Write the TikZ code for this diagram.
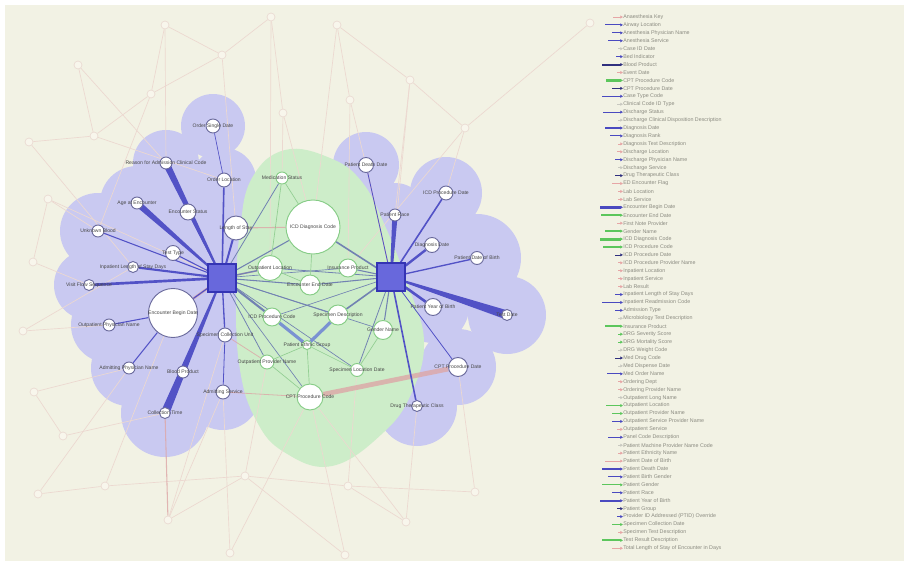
\documentclass[tikz,border=0pt]{standalone}
\usepackage{fontspec}
\setmainfont{Liberation Sans}
\usepackage{tikz}
\usetikzlibrary{calc,arrows.meta}
\definecolor{paper}{HTML}{F2F2E4}
\definecolor{blueblob}{HTML}{C9C9F1}
\definecolor{greenblob}{HTML}{CDEDC9}
\definecolor{bnline}{HTML}{6A6A9C}
\definecolor{gnline}{HTML}{86CC86}
\definecolor{hubline}{HTML}{3434B4}
\definecolor{hubfill}{HTML}{6868DC}
\definecolor{faintline}{HTML}{EADAD2}
\definecolor{faintfill}{HTML}{F8F6EC}
\definecolor{faintedge}{HTML}{ECD8D0}
\definecolor{bedge}{HTML}{5252C6}
\definecolor{cedge}{HTML}{7282B2}
\definecolor{gedge}{HTML}{92CE92}
\definecolor{pedge}{HTML}{DDA6A6}
\definecolor{vedge}{HTML}{7A92D2}
\definecolor{lbltext}{HTML}{484848}
\definecolor{legtext}{HTML}{8A8A80}
\definecolor{legblue}{HTML}{4A4AC0}
\definecolor{legdark}{HTML}{30307E}
\definecolor{leggreen}{HTML}{5CC65C}
\definecolor{legpink}{HTML}{E6A6A6}
\definecolor{leggrey}{HTML}{C8C8C0}
\pgfdeclarelayer{blob}
\pgfdeclarelayer{edge}
\pgfsetlayers{blob,edge,main}
% tapered band from an outer node (wide end) to a hub (narrow end)
\newcommand{\wedgeedge}[4]{\fill[bedge] ($(#1)!#3!90:(#2)$) -- ($(#1)!#3!-90:(#2)$) -- ($(#2)!#4!90:(#1)$) -- ($(#2)!#4!-90:(#1)$) -- cycle;}

\begin{document}
\begin{tikzpicture}[x=0.75pt, y=-0.75pt,
  sz/.style={minimum size=#1*0.75pt},
  bn/.style={circle, draw=bnline, fill=white, line width=0.7pt, inner sep=0pt},
  gn/.style={bn, draw=gnline},
  hub/.style={rectangle, draw=hubline, fill=hubfill, line width=0.9pt, minimum size=21pt},
  fn/.style={circle, draw=faintline, fill=faintfill, line width=0.5pt, minimum size=6pt, inner sep=0pt},
  lbl/.style={font=\fontsize{3.8}{4.3}\selectfont, text=lbltext, inner sep=0pt},
  be/.style={draw=bedge, line width=#1}, be/.default=0.8pt,
  ce/.style={draw=cedge, line width=#1}, ce/.default=0.6pt,
  ge/.style={draw=gedge, line width=#1}, ge/.default=0.5pt,
  pe/.style={draw=pedge, line width=#1, opacity=0.8}, pe/.default=1pt,
  fe/.style={draw=faintedge, line width=0.5pt},
  ve/.style={draw=vedge, line width=2.4pt},
  leg/.style={font=\fontsize{4}{4.5}\selectfont, text=legtext, anchor=west, inner sep=0pt}
]
\useasboundingbox (0,0) rectangle (908,564);

% hubs
\node[hub] (hubL) at (222,278) {};
\node[hub] (hubR) at (391,277) {};

% left cluster
\node[bn, sz=14, label={[lbl]center:Order Single Date}] (a1) at (213,126) {};
\node[bn, sz=12, label={[lbl]center:Reason for Admission Clinical Code}] (a2) at (166,163) {};
\node[bn, sz=14, label={[lbl]center:Order Location}] (a3) at (224,180) {};
\node[bn, sz=12, label={[lbl]center:Age at Encounter}] (a4) at (137,203) {};
\node[bn, sz=16, label={[lbl]center:Encounter Status}] (a5) at (188,212) {};
\node[bn, sz=24, label={[lbl]center:Length of Stay}] (a6) at (236,228) {};
\node[bn, sz=12, label={[lbl]center:Unknown Blood}] (a7) at (98,231) {};
\node[bn, sz=15, label={[lbl]center:Test Type}] (a8) at (173,253) {};
\node[bn, sz=11, label={[lbl]center:Inpatient Length of Stay Days}] (a9) at (133,267) {};
\node[bn, sz=11, label={[lbl]center:Visit Flow Sequence}] (a10) at (89,285) {};
\node[bn, sz=49, label={[lbl]center:Encounter Begin Date}] (a11) at (173,313) {};
\node[bn, sz=12, label={[lbl]center:Outpatient Physician Name}] (a12) at (109,325) {};
\node[bn, sz=14, label={[lbl]center:Specimen Collection Unit}] (a13) at (225,335) {};
\node[bn, sz=12, label={[lbl]center:Admitting Physician Name}] (a14) at (129,368) {};
\node[bn, sz=12, label={[lbl]center:Blood Product}] (a15) at (183,372) {};
\node[bn, sz=14, label={[lbl]center:Admitting Service}] (a16) at (223,392) {};
\node[bn, sz=11, label={[lbl]center:Collection Time}] (a17) at (165,413) {};

% centre cluster
\node[gn, sz=12, label={[lbl]center:Medication Status}] (g1) at (282,178) {};
\node[gn, sz=54, label={[lbl]center:ICD Diagnosis Code}] (g2) at (313,227) {};
\node[gn, sz=25, label={[lbl]center:Outpatient Location}] (g3) at (270,268) {};
\node[gn, sz=18, label={[lbl]center:Insurance Product}] (g4) at (348,268) {};
\node[gn, sz=20, label={[lbl]center:Encounter End Date}] (g5) at (310,285) {};
\node[gn, sz=18, label={[lbl]center:ICD Procedure Code}] (g6) at (272,317) {};
\node[gn, sz=20, label={[lbl]center:Specimen Description}] (g7) at (338,315) {};
\node[gn, sz=19, label={[lbl]center:Gender Name}] (g8) at (383,330) {};
\node[gn, sz=9, label={[lbl]center:Patient Ethnic Group}] (g9) at (307,345) {};
\node[gn, sz=14, label={[lbl]center:Outpatient Provider Name}] (g10) at (267,362) {};
\node[gn, sz=13, label={[lbl]center:Specimen Location Date}] (g11) at (357,370) {};
\node[gn, sz=26, label={[lbl]center:CPT Procedure Code}] (g12) at (310,397) {};

% right cluster
\node[bn, sz=15, label={[lbl]center:Patient Death Date}] (r1) at (366,165) {};
\node[bn, sz=14, label={[lbl]center:ICD Procedure Date}] (r2) at (446,193) {};
\node[bn, sz=12, label={[lbl]center:Patient Race}] (r3) at (395,215) {};
\node[bn, sz=15, label={[lbl]center:Diagnosis Date}] (r4) at (432,245) {};
\node[bn, sz=13, label={[lbl]center:Patient Date of Birth}] (r5) at (477,258) {};
\node[bn, sz=17, label={[lbl]center:Patient Year of Birth}] (r6) at (433,307) {};
\node[bn, sz=11, label={[lbl]center:Test Date}] (r7) at (507,315) {};
\node[bn, sz=19, label={[lbl]center:CPT Procedure Date}] (r8) at (458,367) {};
\node[bn, sz=11, label={[lbl]center:Drug Therapeutic Class}] (r9) at (417,406) {};

% faint outer nodes
\foreach \n/\x/\y in {f1/165/25, f2/271/17, f3/337/25, f4/78/65, f5/222/55, f6/151/94,
  f7/283/113, f8/350/100, f9/410/80, f10/465/128, f11/29/142, f12/94/136, f13/48/199,
  f14/33/262, f15/23/331, f16/34/392, f17/63/436, f18/38/494, f19/105/486, f20/168/520,
  f21/245/476, f22/230/553, f23/348/486, f24/406/522, f25/475/492, f26/590/23, f27/345/555}
  \node[fn] (\n) at (\x,\y) {};

% legend
\foreach \t/\xs/\c/\w [count=\i] in {
  Anaesthesia Key/613/legpink/0.5, Airway Location/605/legblue/0.8,
  Anesthesia Physician Name/612/legblue/0.8, Anesthesia Service/608/legblue/0.8,
  Case ID Date/618/leggrey/0.5, Bed Indicator/616/legblue/0.6,
  Blood Product/602/legdark/1.5, Event Date/617/legpink/0.5,
  CPT Procedure Code/606/leggreen/2, CPT Procedure Date/612/legdark/1,
  Case Type Code/602/legblue/0.8, Clinical Code ID Type/617/leggrey/0.5,
  Discharge Status/603/legblue/0.8, Discharge Clinical Disposition Description/618/leggrey/0.5,
  Diagnosis Date/605/legblue/0.8, Diagnosis Rank/610/legblue/0.8,
  Diagnosis Text Description/618/legpink/0.5, Discharge Location/617/legpink/0.5,
  Discharge Physician Name/615/legblue/0.6, Discharge Service/618/leggrey/0.5,
  Drug Therapeutic Class/615/legdark/0.6, ED Encounter Flag/612/legpink/0.5,
  Lab Location/618/legpink/0.5, Lab Service/618/legpink/0.5,
  Encounter Begin Date/600/legblue/2.2, Encounter End Date/601/leggreen/1.8,
  First Note Provider/617/legpink/0.5, Gender Name/605/leggreen/1.2,
  ICD Diagnosis Code/600/leggreen/2.2, ICD Procedure Code/603/leggreen/1.5,
  ICD Procedure Date/615/legdark/0.6, ICD Procedure Provider Name/618/legpink/0.5,
  Inpatient Location/618/legpink/0.5, Inpatient Service/618/legpink/0.5,
  Lab Result/618/legpink/0.5, Inpatient Length of Stay Days/615/legblue/0.6,
  Inpatient Readmission Code/602/legblue/0.8, Admission Type/615/legblue/0.6,
  Microbiology Test Description/618/leggrey/0.5, Insurance Product/605/leggreen/1.2,
  DRG Severity Score/618/leggreen/0.5, DRG Mortality Score/618/leggreen/0.5,
  DRG Weight Code/618/leggrey/0.5, Med Drug Code/615/legdark/0.6,
  Med Dispense Date/618/leggrey/0.5, Med Order Name/607/legblue/0.8,
  Ordering Dept/618/legpink/0.5, Ordering Provider Name/618/legpink/0.5,
  Outpatient Long Name/618/leggrey/0.5, Outpatient Location/606/leggreen/1.2,
  Outpatient Provider Name/612/leggreen/0.8, Outpatient Service Provider Name/612/legblue/0.8,
  Outpatient Service/617/legpink/0.5, Panel Code Description/608/legblue/1,
  Patient Machine Provider Name Code/618/leggrey/0.5, Patient Ethnicity Name/618/legpink/0.5,
  Patient Date of Birth/605/legpink/0.6, Patient Death Date/602/legblue/1,
  Patient Birth Gender/608/legblue/0.8, Patient Gender/602/leggreen/0.8,
  Patient Race/612/legblue/0.8, Patient Year of Birth/600/legblue/1.5,
  Patient Group/617/legdark/0.5, Provider ID Addressed (PTID) Override/617/legblue/0.5,
  Specimen Collection Date/612/leggreen/0.8, Specimen Test Description/618/legpink/0.5,
  Test Result Description/602/leggreen/1.5, Total Length of Stay of Encounter in Days/612/legpink/0.5}
{
  \pgfmathsetmacro{\yy}{17+(\i-1)*7.93}
  \node[leg] (leg\i) at (623,\yy) {\t};
  \coordinate (legs\i) at (\xs,\yy);
  \draw[draw=\c, line width=\w pt, -{Latex[length=2pt,width=2.6pt]}] (legs\i) -- (leg\i.west);
}

\begin{pgfonlayer}{blob}
  \fill[white] (0,0) rectangle (908,564);
  \fill[paper] (5,5) rectangle (904,561);
  \foreach \n/\r in {a1/32, a2/33, a3/32, a4/37, a5/32, a6/32, a7/38, a8/34, a9/38,
    a10/35, a11/48, a12/38, a13/34, a14/38, a15/36, a16/38, a17/44, hubL/48,
    r1/33, r2/36, r3/32, r4/36, r5/44, r6/36, r7/39, r8/38, r9/40, hubR/46}
    \fill[blueblob] (\n) circle [radius=\r*0.75pt];
  \fill[greenblob] plot[smooth cycle, tension=0.7] coordinates {(252,178) (285,150) (330,158)
    (362,182) (386,228) (410,290) (424,342) (412,392) (384,432) (332,466) (284,452)
    (256,420) (240,370) (236,300) (240,230)};
\end{pgfonlayer}

\begin{pgfonlayer}{edge}
  % faint background net
  \foreach \a/\b in {f1/f6, f1/a2, f2/f7, f2/f5, f3/f8, f3/g2, f4/f12, f4/a2, f5/a6, f5/f6,
    f6/a7, f7/g1, f7/g2, f8/r1, f9/r3, f9/f10, f10/r2, f10/g4, f11/f12, f11/a9, f12/a3,
    f13/a7, f13/hubL, f14/a10, f14/f13, f15/a12, f15/a9, f16/a14, f16/f17, f17/a17,
    f18/a14, f18/f19, f19/a11, f20/a16, f20/f21, f21/g10, f21/f23, f22/g12, f22/a16,
    f23/g11, f23/f24, f24/r9, f24/g12, f25/r8, f25/f23, f27/g12, f27/f21, f26/f10,
    f2/g3, f8/g4, f9/hubR, f19/f21, f20/a13, f6/f12, f1/f5, f3/f9}
    \draw[fe] (\a) -- (\b);
  % pink links
  \foreach \a/\b/\w in {g12/r8/3.6pt, a11/hubL/1.8pt, hubL/g3/1.2pt, a6/g2/0.8pt,
    a16/g12/0.6pt, a17/f20/0.8pt, hubR/r1/0.6pt, a13/g10/0.6pt}
    \draw[pe=\w] (\a) -- (\b);
  % centre links
  \foreach \a/\b/\w in {hubL/g1/0.6pt, hubL/g2/0.8pt, hubL/g3/1pt, hubL/g5/0.8pt,
    hubL/g4/0.5pt, hubL/g7/0.6pt, hubL/g10/0.6pt, hubL/g11/0.5pt, hubL/g12/0.5pt,
    hubR/g2/1.2pt, hubR/g4/0.8pt, hubR/g5/0.8pt, hubR/g3/0.6pt, hubR/g7/1.2pt,
    hubR/g8/0.8pt, hubR/g11/0.6pt, hubR/g6/0.5pt, hubL/g8/0.5pt}
    \draw[ce=\w] (\a) -- (\b);
  \draw[ce=1.6pt] (hubL) -- (g6);
  \draw[ve] (g6) -- (g9);
  \draw[ve] (g7) -- (g9);
  \foreach \a/\b in {g1/g3, g1/g2, g9/g12, g10/g9, g11/g8, g11/g9, g3/g5, g2/g5, g12/g10}
    \draw[ge] (\a) -- (\b);
  % left cluster links
  \foreach \a/\b/\w in {a1/a3/0.5pt, a3/hubL/1.2pt, a5/hubL/1pt, a6/hubL/1.5pt,
    a7/hubL/0.8pt, a8/hubL/0.8pt, a9/hubL/1.6pt, a10/hubL/2pt, a11/hubL/0.9pt,
    a11/a12/0.8pt, a11/a14/0.8pt, a13/hubL/1pt, a13/a16/0.6pt}
    \draw[be=\w] (\a) -- (\b);
  \wedgeedge{a2}{hubL}{2.6pt}{0.5pt}
  \wedgeedge{a4}{hubL}{2.4pt}{0.5pt}
  \wedgeedge{a17}{hubL}{3.2pt}{0.5pt}
  % right cluster links
  \foreach \a/\b/\w in {r1/hubR/0.6pt, r2/hubR/1.2pt, r4/hubR/1.8pt, r5/hubR/1pt,
    r6/hubR/2pt, r8/hubR/0.6pt, r9/hubR/1.2pt}
    \draw[be=\w] (\a) -- (\b);
  \wedgeedge{r3}{hubR}{2pt}{0.8pt}
  \wedgeedge{r7}{hubR}{3.4pt}{0.5pt}
\end{pgfonlayer}
\end{tikzpicture}
\end{document}
